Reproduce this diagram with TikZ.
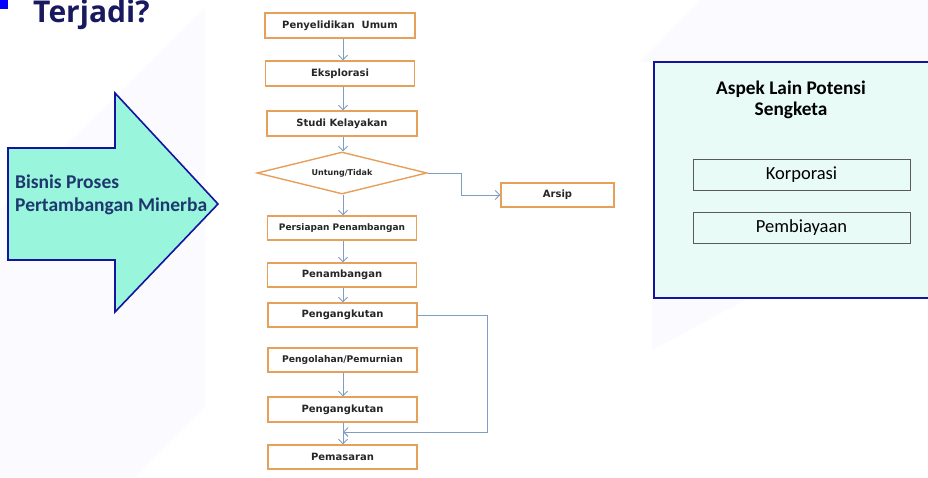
\documentclass[tikz,border=0pt]{standalone}
\usepackage{fontspec}
\setmainfont{Carlito}
\newfontfamily\flowfont{DejaVu Sans}
\newfontfamily\titlefont{Open Sans}
\usetikzlibrary{arrows.meta,shapes.geometric}
\definecolor{orangeB}{RGB}{230,160,90}
\definecolor{steel}{RGB}{126,158,198}
\definecolor{navyB}{RGB}{20,20,160}
\definecolor{aqua}{RGB}{153,245,220}
\definecolor{paleC}{RGB}{232,251,247}
\definecolor{navyT}{RGB}{25,25,95}
\definecolor{arrowT}{RGB}{30,55,110}
\definecolor{lav}{RGB}{250,250,255}
\definecolor{grayB}{RGB}{90,90,90}
\begin{document}
\begin{tikzpicture}[x=1pt,y=-1pt,
  flow/.style={draw=orangeB, line width=1.4pt, fill=white, inner sep=0pt,
    font=\flowfont\bfseries\fontsize{10}{12}\selectfont, text=black!85},
  arr/.style={draw=steel, line width=0.9pt, -{Straight Barb[length=4.5pt,width=9pt]}},
  sidebox/.style={draw=grayB, line width=0.7pt, fill=paleC, minimum width=217pt,
    minimum height=31pt, inner sep=0pt, font=\fontsize{18.5}{22}\selectfont}]
\useasboundingbox (0,0) rectangle (928,477);
\clip (0,0) rectangle (928,477);
\fill[white] (0,0) rectangle (928,477);
% faint background shapes
\fill[lav] (150,63) -- (205,8) -- (205,407) -- (135,477) -- (0,477) -- (0,210) -- cycle;
\fill[lav] (652,350) -- (745,300) -- (652,300) -- cycle;
\fill[lav] (640,62) -- (700,0) -- (928,0) -- (928,62) -- cycle;
% title
\fill[blue] (0,0) rectangle (8,9);
\node[anchor=base west, inner sep=0pt, text=navyT,
  font=\titlefont\bfseries\fontsize{30}{32}\selectfont] (title) at (33,22.5) {Terjadi?};
% big arrow
\draw[navyB, line width=1.6pt, fill=aqua, line join=miter]
  (8,148) -- (115,148) -- (115,93) -- (218,204) -- (115,312) -- (115,260) -- (8,260) -- cycle;
\node[anchor=west, align=left, inner sep=0pt, text=arrowT,
  font=\bfseries\fontsize{19.5}{23}\selectfont] (bisnis) at (15,195)
  {Bisnis Proses\\Pertambangan Minerba};
% flowchart
\node[flow, minimum width=150pt, minimum height=25pt] (pu) at (340,25.5) {Penyelidikan~ Umum};
\node[flow, minimum width=149pt, minimum height=25pt] (ek) at (340,73.5) {Eksplorasi};
\node[flow, minimum width=150pt, minimum height=25pt] (sk) at (342,123.5) {Studi Kelayakan};
\node[diamond, draw=orangeB, line width=1.4pt, fill=white, inner sep=0pt, aspect=4,
  minimum width=170pt, minimum height=42pt,
  font=\flowfont\bfseries\fontsize{8}{10}\selectfont, text=black!85] (dia) at (342,173) {\raisebox{2pt}{Untung/Tidak}};
\node[flow, minimum width=113pt, minimum height=24pt] (arsip) at (557.5,195) {Arsip};
\node[flow, minimum width=149pt, minimum height=24pt,
  font=\flowfont\bfseries\fontsize{9}{11}\selectfont] (pp) at (342,228) {Persiapan Penambangan};
\node[flow, minimum width=149pt, minimum height=24pt] (pn) at (342,275) {Penambangan};
\node[flow, minimum width=149pt, minimum height=24pt] (pk1) at (342.5,315) {Pengangkutan};
\node[flow, minimum width=149pt, minimum height=24pt,
  font=\flowfont\bfseries\fontsize{9.2}{11}\selectfont] (po) at (342.5,360) {\raisebox{3pt}{Pengolahan/Pemurnian}};
\node[flow, minimum width=149pt, minimum height=25pt] (pk2) at (342.5,409.5) {Pengangkutan};
\node[flow, minimum width=149pt, minimum height=24pt] (pm) at (342.5,457) {Pemasaran};
% connectors
\draw[arr] (pu.south -| 343,0) -- (ek.north -| 343,0);
\draw[arr] (ek.south -| 343,0) -- (sk.north -| 343,0);
\draw[arr] (sk.south -| 343,0) -- (dia.north -| 343,0);
\draw[arr] (dia.south -| 343,0) -- (pp.north -| 343,0);
\draw[arr] (pp.south -| 343,0) -- (pn.north -| 343,0);
\draw[arr] (pn.south -| 343,0) -- (pk1.north -| 343,0);
\draw[arr] (po.south -| 343,0) -- (pk2.north -| 343,0);
\draw[arr] (pk2.south -| 343,0) -- (pm.north -| 343,0);
\draw[arr] (dia.east) -- (461,173) |- (arsip.west);
\coordinate (ret) at (343,432);
\draw[arr] (pk1.east) -- (487,315) |- (ret);
% right panel
\draw[navyB, line width=1.8pt, fill=paleC] (654,62) rectangle (945,298);
\node[align=center, inner sep=0pt, font=\bfseries\fontsize{19.3}{21}\selectfont, text=black] (aspek)
  at (791,100) {Aspek Lain Potensi\\Sengketa};
\node[sidebox] (korp) at (801.5,174.5) {Korporasi};
\node[sidebox] (pemb) at (801.5,227.5) {Pembiayaan};
\end{tikzpicture}
\end{document}
